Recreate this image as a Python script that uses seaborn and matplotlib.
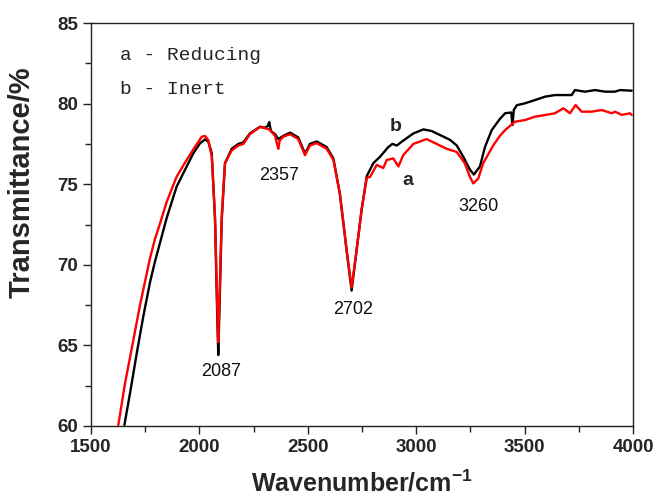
import numpy as np
import pandas as pd
import matplotlib
matplotlib.use("Agg")
import matplotlib.pyplot as plt
import seaborn as sns

# Inert (b, black) spectrum
inert_wn = [1654, 1680, 1711, 1741, 1772, 1795, 1818, 1849, 1895, 1941, 1972, 2003, 2026,
            2041, 2057, 2072, 2082, 2087, 2093, 2103, 2118, 2149, 2180, 2203, 2233, 2280,
            2300, 2315, 2322, 2330, 2349, 2364, 2387, 2418, 2456, 2487, 2510, 2541, 2587,
            2618, 2648, 2679, 2702, 2725, 2748, 2772, 2802, 2833, 2871, 2890, 2910, 2940,
            2987, 3033, 3071, 3110, 3156, 3187, 3217, 3248, 3266, 3294, 3317, 3348, 3386,
            3410, 3438, 3444, 3450, 3464, 3502, 3548, 3594, 3640, 3686, 3717, 3732, 3779,
            3825, 3871, 3917, 3940, 3994]
inert_t = [60.06, 62.03, 64.51, 66.78, 68.9, 70.2, 71.35, 72.9, 74.85, 76.09, 76.92, 77.54,
           77.78, 77.64, 76.92, 72.8, 67.0, 64.4, 67.5, 72.8, 76.3, 77.2, 77.5, 77.6, 78.15,
           78.57, 78.5, 78.6, 78.85, 78.3, 78.1, 77.8, 78.0, 78.2, 77.9, 76.9, 77.5, 77.65,
           77.3, 76.6, 74.4, 70.9, 68.4, 70.9, 73.4, 75.5, 76.3, 76.7, 77.3, 77.5, 77.4,
           77.7, 78.15, 78.4, 78.3, 78.05, 77.75, 77.4, 76.7, 75.9, 75.6, 76.1, 77.3, 78.35,
           79.05, 79.4, 79.45, 78.67, 79.6, 79.9, 80.02, 80.22, 80.43, 80.53, 80.53, 80.53,
           80.84, 80.74, 80.84, 80.74, 80.74, 80.84, 80.8]

# Reducing (a, red) spectrum
reducing_wn = [1626, 1657, 1695, 1726, 1772, 1795, 1818, 1849, 1895, 1941, 1980, 2011, 2026,
               2041, 2057, 2072, 2082, 2087, 2093, 2103, 2118, 2149, 2180, 2203, 2233, 2280,
               2322, 2349, 2358, 2364, 2370, 2387, 2418, 2456, 2487, 2510, 2541, 2587, 2618,
               2648, 2679, 2702, 2725, 2748, 2772, 2787, 2818, 2848, 2864, 2894, 2918, 2940,
               2987, 3048, 3094, 3140, 3187, 3224, 3248, 3263, 3286, 3309, 3355, 3386, 3410,
               3456, 3502, 3548, 3594, 3640, 3679, 3709, 3735, 3763, 3809, 3856, 3902, 3917,
               3948, 3986, 3994]
reducing_t = [60.06, 62.65, 65.3, 67.5, 70.4, 71.6, 72.55, 73.9, 75.47, 76.5, 77.33, 77.95,
              77.99, 77.74, 76.7, 73.0, 67.5, 65.2, 68.0, 73.0, 76.3, 77.1, 77.4, 77.5, 78.1,
              78.55, 78.4, 78.0, 77.5, 77.2, 77.7, 77.95, 78.1, 77.8, 76.8, 77.4, 77.55, 77.2,
              76.5, 74.4, 70.9, 68.6, 70.9, 73.4, 75.4, 75.45, 76.2, 76.0, 76.5, 76.6, 76.1,
              76.8, 77.5, 77.8, 77.5, 77.2, 77.0, 76.3, 75.45, 75.05, 75.35, 76.3, 77.4, 78.0,
              78.36, 78.88, 78.98, 79.19, 79.29, 79.4, 79.71, 79.4, 79.91, 79.5, 79.5, 79.6,
              79.4, 79.5, 79.3, 79.4, 79.3]

# peak labels
peak_labels = ["2087", "2357", "2702", "3260"]
peak_x = [2100, 2367, 2709, 3285]
peak_y = [63.35, 75.57, 67.2, 73.6]

sns.set_style("ticks")
plt.rcParams['font.family'] = ['Liberation Sans', 'DejaVu Sans']
plt.rcParams['mathtext.fontset'] = 'custom'
plt.rcParams['mathtext.rm'] = 'Liberation Sans'
plt.rcParams['mathtext.bf'] = 'Liberation Sans:bold'

fig = plt.figure(figsize=(6.57, 4.99), dpi=100)
ax = fig.add_axes([0.1385, 0.1463, 0.825, 0.8076])

df_b = pd.DataFrame({"wn": inert_wn, "T": inert_t})
df_a = pd.DataFrame({"wn": reducing_wn, "T": reducing_t})
sns.lineplot(data=df_b, x="wn", y="T", color="black", linewidth=1.7, sort=False,
             estimator=None, ax=ax)
sns.lineplot(data=df_a, x="wn", y="T", color="#ff0000", linewidth=1.7, sort=False,
             estimator=None, ax=ax)

ax.set_xlim(1500, 4000)
ax.set_ylim(60, 85)
ax.set_xticks([1500, 2000, 2500, 3000, 3500, 4000])
ax.set_yticks([60, 65, 70, 75, 80, 85])
ax.set_xticks(np.arange(1750, 4000, 500), minor=True)
ax.set_yticks(np.arange(62.5, 85, 5), minor=True)
ax.tick_params(which="major", direction="out", length=6, width=1, labelsize=13.5,
               color="#222222")
ax.tick_params(which="minor", direction="out", length=4, width=1, color="#222222")
for lab in ax.get_xticklabels() + ax.get_yticklabels():
    lab.set_fontweight("bold")
for sp in ax.spines.values():
    sp.set_visible(True)
    sp.set_linewidth(1.0)
    sp.set_color("#222222")

ax.set_xlabel("Wavenumber/cm$^{\\mathbf{-1}}$", fontsize=18, fontweight="bold", labelpad=10)
ax.set_ylabel("Transmittance/%", fontsize=21, fontweight="bold")
ax.yaxis.set_label_coords(-0.102, 0.605)

for lab, x, y in zip(peak_labels, peak_x, peak_y):
    ax.text(x, y, lab, fontsize=13, ha="center", va="center", color="#111111")

ax.text(2907, 78.6, "b", fontsize=14, fontweight="bold", ha="center", va="center")
ax.text(2962, 75.2, "a", fontsize=14, fontweight="bold", ha="center", va="center")

ax.text(1634, 83.0, "a - Reducing", fontsize=14, family="Liberation Mono",
        ha="left", va="center")
ax.text(1634, 80.9, "b - Inert", fontsize=14, family="Liberation Mono",
        ha="left", va="center")

fig.savefig("out.png", dpi=100)
